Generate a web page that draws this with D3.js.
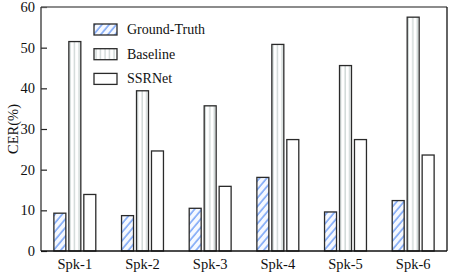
<!DOCTYPE html>
<html>
<head>
<meta charset="utf-8">
<script src="https://cdn.jsdelivr.net/npm/d3@7"></script>
<style>
  body { margin: 0; background: #fff; }
  text { font-family: 'Liberation Serif', 'Times New Roman', serif; fill: #111; }
</style>
</head>
<body>
<div id="chart"></div>
<script>
// chart values
const speakers = ['Spk-1', 'Spk-2', 'Spk-3', 'Spk-4', 'Spk-5', 'Spk-6'];
const seriesNames = ['Ground-Truth', 'Baseline', 'SSRNet'];
const groundTruth = [9.3, 8.7, 10.5, 18.1, 9.6, 12.4];
const baseline = [51.5, 39.4, 35.7, 50.8, 45.6, 57.5];
const ssrnet = [13.9, 24.6, 15.9, 27.4, 27.4, 23.6];
const yTicks = [0, 10, 20, 30, 40, 50, 60];

const width = 457, height = 277;
const margin = {top: 7, right: 10, bottom: 26, left: 41};
const innerW = width - margin.left - margin.right;
const innerH = height - margin.top - margin.bottom;

const svg = d3.select('#chart').append('svg')
    .attr('width', width)
    .attr('height', height);

// patterns
const defs = svg.append('defs');
const hatch = defs.append('pattern')
    .attr('id', 'hatch')
    .attr('patternUnits', 'userSpaceOnUse')
    .attr('width', 5.5).attr('height', 5.5)
    .attr('patternTransform', 'rotate(40)');
hatch.append('rect').attr('width', 5.5).attr('height', 5.5).attr('fill', '#f6f9ff');
hatch.append('line')
    .attr('x1', 1).attr('y1', 0).attr('x2', 1).attr('y2', 5.5)
    .attr('stroke', '#6c9cf6').attr('stroke-width', 1.4);

const vlines = defs.append('pattern')
    .attr('id', 'vlines')
    .attr('patternUnits', 'userSpaceOnUse')
    .attr('width', 4.5).attr('height', 4);
vlines.append('rect').attr('width', 4.5).attr('height', 4).attr('fill', '#fff');
vlines.append('line')
    .attr('x1', 2).attr('y1', 0).attr('x2', 2).attr('y2', 4)
    .attr('stroke', '#c8d2d0').attr('stroke-width', 1.2);

const fills = ['url(#hatch)', 'url(#vlines)', '#fff'];

const g = svg.append('g')
    .attr('transform', `translate(${margin.left},${margin.top})`);

const x0 = d3.scaleBand().domain(speakers).range([0, innerW]);
const x1 = d3.scaleBand().domain(seriesNames)
    .range([0, x0.bandwidth()])
    .paddingInner(0.2)
    .paddingOuter(0.86);
const y = d3.scaleLinear().domain([0, 60]).range([innerH, 0]);

const rows = speakers.map((s, i) => ({
  speaker: s,
  values: [groundTruth[i], baseline[i], ssrnet[i]]
}));

// bars
const grp = g.selectAll('.grp')
    .data(rows)
  .join('g')
    .attr('class', 'grp')
    .attr('transform', d => `translate(${x0(d.speaker)},0)`);

grp.selectAll('rect')
    .data(d => d.values.map((v, k) => ({key: seriesNames[k], value: v, k: k})))
  .join('rect')
    .attr('x', d => x1(d.key))
    .attr('y', d => y(d.value))
    .attr('width', x1.bandwidth())
    .attr('height', d => innerH - y(d.value))
    .attr('fill', d => fills[d.k])
    .attr('stroke', '#2a2a2a')
    .attr('stroke-width', 1.3);

// y axis
const yAxis = g.append('g')
    .call(d3.axisLeft(y).tickValues(yTicks).tickSize(-6).tickPadding(6));
yAxis.select('.domain').remove();
yAxis.selectAll('.tick line').attr('stroke', '#222').attr('stroke-width', 1.2);
yAxis.selectAll('.tick text')
    .style('font-size', '14.5px')
    .style('font-family', "'Liberation Serif', serif")
    .attr('fill', '#111');

// x labels
const xAxis = g.append('g')
    .attr('transform', `translate(0,${innerH})`)
    .call(d3.axisBottom(x0).tickSize(0).tickPadding(8));
xAxis.select('.domain').remove();
xAxis.selectAll('.tick text')
    .style('font-size', '14.5px')
    .style('font-family', "'Liberation Serif', serif")
    .attr('fill', '#111');

// frame
g.append('line').attr('x1', 0).attr('x2', innerW).attr('y1', 0).attr('y2', 0)
    .attr('stroke', '#666').attr('stroke-width', 1.3);
g.append('line').attr('x1', innerW).attr('x2', innerW).attr('y1', 0).attr('y2', innerH)
    .attr('stroke', '#111').attr('stroke-width', 1.3);
g.append('line').attr('x1', 0).attr('x2', 0).attr('y1', 0).attr('y2', innerH)
    .attr('stroke', '#333').attr('stroke-width', 1.3);
g.append('line').attr('x1', 0).attr('x2', innerW).attr('y1', innerH).attr('y2', innerH)
    .attr('stroke', '#111').attr('stroke-width', 1.3);

// y label
svg.append('text')
    .attr('transform', `translate(18,${margin.top + innerH / 2}) rotate(-90)`)
    .attr('text-anchor', 'middle')
    .style('font-size', '14.5px')
    .text('CER(%)');

// legend
const legend = svg.append('g')
    .attr('transform', 'translate(94,24)');
const item = legend.selectAll('.item')
    .data(seriesNames)
  .join('g')
    .attr('class', 'item')
    .attr('transform', (d, i) => `translate(0,${i * 24.7})`);
item.append('rect')
    .attr('width', 23).attr('height', 11)
    .attr('fill', (d, i) => fills[i])
    .attr('stroke', '#2a2a2a')
    .attr('stroke-width', 1.3);
item.append('text')
    .attr('x', 33).attr('y', 10)
    .style('font-size', '14px')
    .text(d => d);
</script>
</body>
</html>
